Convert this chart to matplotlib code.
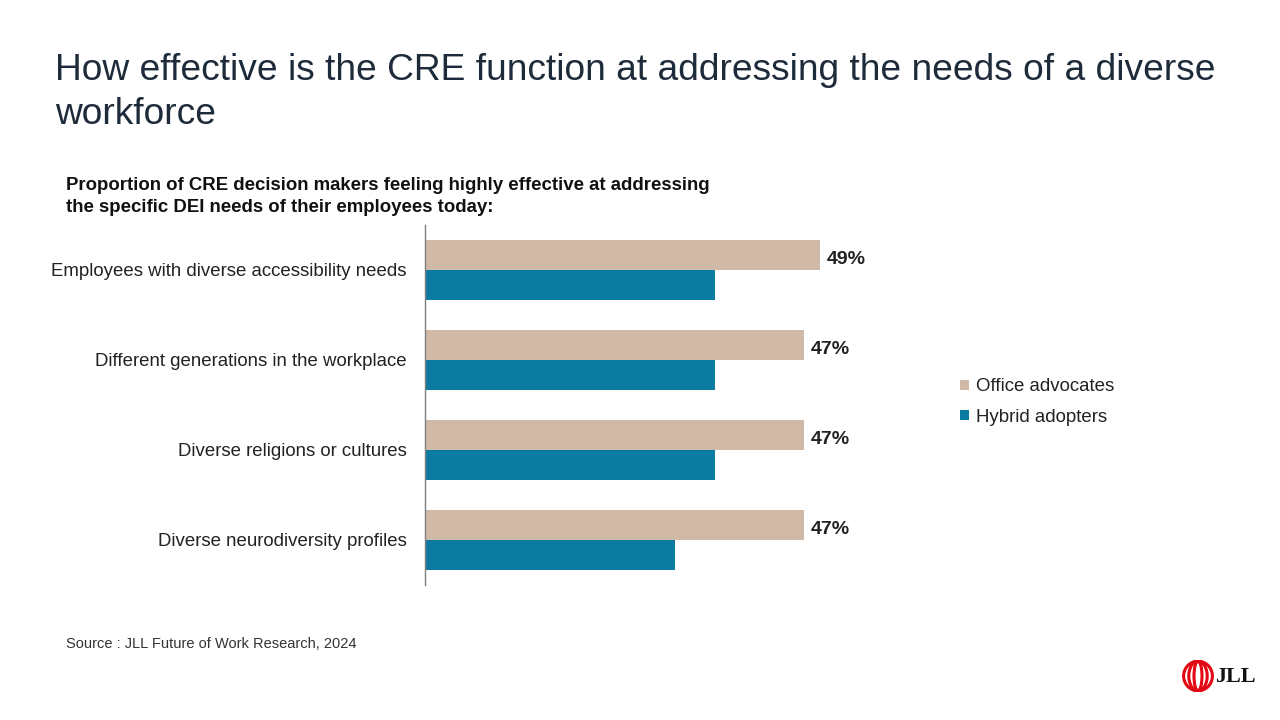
import matplotlib
matplotlib.use("Agg")
import matplotlib.pyplot as plt
from matplotlib.patches import Ellipse
import numpy as np

plt.rcParams['font.family'] = ['Liberation Sans', 'DejaVu Sans']

categories = [
    "Employees with diverse accessibility needs",
    "Different generations in the workplace",
    "Diverse religions or cultures",
    "Diverse neurodiversity profiles",
]
office_advocates = [49, 47, 47, 47]
hybrid_adopters = [36, 36, 36, 31]
series_names = ["Office advocates", "Hybrid adopters"]

C_OFFICE = "#D0B9A6"
C_HYBRID = "#0C7BA1"
C_TITLE = "#1E2B3A"

W, H = 1280, 720
fig = plt.figure(figsize=(12.8, 7.2), dpi=100)
fig.patch.set_facecolor("white")

def fx(px):
    return px / W

def fy(py):
    return 1 - py / H

# Title
fig.text(fx(55), fy(70), "How effective is the CRE function at addressing the needs of a diverse",
         fontsize=26.7, color=C_TITLE, va="center", ha="left")
fig.text(fx(55), fy(114), "workforce",
         fontsize=26.7, color=C_TITLE, va="center", ha="left")

# Subtitle
fig.text(fx(66), fy(185), "Proportion of CRE decision makers feeling highly effective at addressing",
         fontsize=13.4, fontweight="bold", color="#111111", va="center", ha="left")
fig.text(fx(66), fy(207), "the specific DEI needs of their employees today:",
         fontsize=13.4, fontweight="bold", color="#111111", va="center", ha="left")

# Axes: x from 425 to 905 px, y from 225 to 585 px
ax_left, ax_right = 425, 905
ax_top, ax_bot = 225, 585
ax = fig.add_axes([fx(ax_left), fy(ax_bot), (ax_right - ax_left) / W, (ax_bot - ax_top) / H])
px_per_unit = (820 - 425) / 49.0
ax.set_xlim(0, (ax_right - ax_left) / px_per_unit)
n = len(categories)
ax.set_ylim(n - 0.5, -0.5)

y = np.arange(n)
bh = 1 / 3
ax.barh(y - bh / 2, office_advocates, height=bh, color=C_OFFICE, label=series_names[0])
ax.barh(y + bh / 2, hybrid_adopters, height=bh, color=C_HYBRID, label=series_names[1])

for i, v in enumerate(office_advocates):
    ax.text(v + 7 / px_per_unit, y[i] - bh / 2 + 0.045, f"{v}%", fontsize=14, fontweight="bold",
            color="#222222", va="center", ha="left")

for s in ["top", "right", "bottom"]:
    ax.spines[s].set_visible(False)
ax.spines["left"].set_color("#7F7F7F")
ax.spines["left"].set_linewidth(1.0)
ax.set_xticks([])
ax.set_yticks(y)
ax.set_yticklabels(categories, fontsize=13.4, color="#222222")
ax.tick_params(axis="y", length=0, pad=13)

# Legend
leg = ax.legend(loc="center left", bbox_to_anchor=(fx(960), fy(402)), bbox_transform=fig.transFigure,
                frameon=False, fontsize=13.4, handlelength=0.5, handleheight=0.5,
                handletextpad=0.35, labelspacing=0.7, borderaxespad=0, borderpad=0)
for t in leg.get_texts():
    t.set_color("#222222")

# Source
fig.text(fx(66), fy(644), "Source : JLL Future of Work Research, 2024",
         fontsize=10.5, color="#333333", va="center", ha="left")

# Logo
lax = fig.add_axes([fx(1182), fy(692), 32 / W, 32 / H])
lax.set_xlim(-1, 1)
lax.set_ylim(-1, 1)
lax.axis("off")
for wdt in [1.8, 1.15, 0.5]:
    lax.add_patch(Ellipse((0, 0), wdt, 1.85, fill=False, edgecolor="#E30613", linewidth=2.2))
fig.text(fx(1215), fy(677), "JLL", fontsize=16, fontweight="bold", family="Liberation Serif",
         color="#111111", va="center", ha="left")

fig.savefig("out.png", dpi=100, facecolor="white")
